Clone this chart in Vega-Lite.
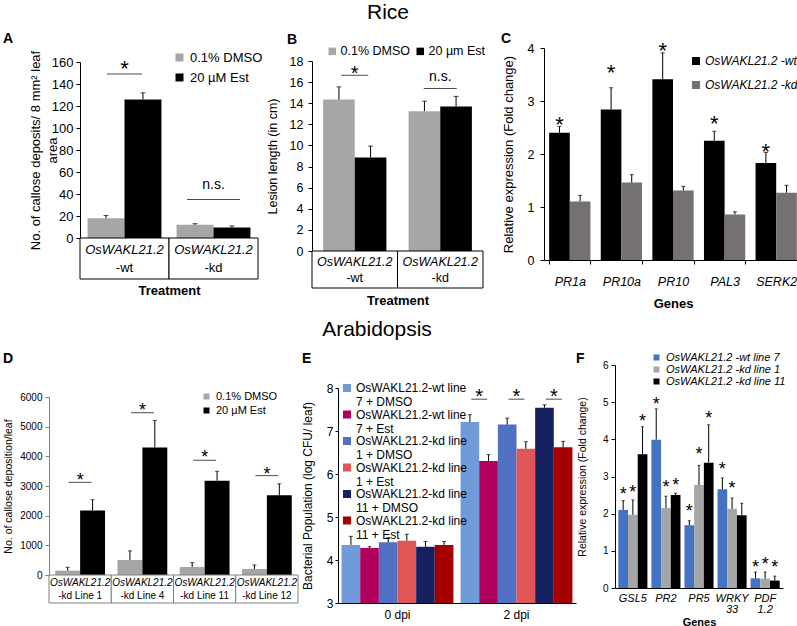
{
  "$schema": "https://vega.github.io/schema/vega-lite/v6.json",
  "padding": {"left": 2, "top": 2, "right": 0, "bottom": 0},
  "background": "white",
  "config": {
    "font": "Liberation Sans",
    "view": {"stroke": null},
    "axis": {"grid": false, "domainColor": "#000", "tickColor": "#000", "labelColor": "#000", "titleColor": "#000", "titleFontWeight": "normal", "tickSize": 4, "labelPadding": 3, "labelOverlap": false},
    "legend": {"symbolType": "square", "labelColor": "#000", "padding": 0, "symbolStrokeWidth": 0, "labelLimit": 300},
    "title": {"color": "#000"}
  },
  "datasets": {
    "a": [
      {"cat": "wt", "trt": "0.1% DMSO", "v": 18, "u": 20.5},
      {"cat": "wt", "trt": "20 µM Est", "v": 126, "u": 132},
      {"cat": "kd", "trt": "0.1% DMSO", "v": 12, "u": 13},
      {"cat": "kd", "trt": "20 µM Est", "v": 9.5, "u": 11}
    ],
    "aSig": [{"cat": "wt", "ly": 149, "ty": 159, "lab": "*"}, {"cat": "kd", "ly": 35, "ty": 48, "lab": "n.s."}],
    "aStrip": [{"cat": "wt", "l1": "OsWAKL21.2", "l2": "-wt"}, {"cat": "kd", "l1": "OsWAKL21.2", "l2": "-kd"}],
    "b": [
      {"cat": "wt", "trt": "0.1% DMSO", "v": 14.35, "u": 15.55},
      {"cat": "wt", "trt": "20 µm Est", "v": 8.86, "u": 9.94},
      {"cat": "kd", "trt": "0.1% DMSO", "v": 13.25, "u": 14.2},
      {"cat": "kd", "trt": "20 µm Est", "v": 13.7, "u": 14.65}
    ],
    "bSig": [{"cat": "wt", "ly": 16.65, "ty": 17.2, "lab": "*"}, {"cat": "kd", "ly": 15.4, "ty": 16.5, "lab": "n.s."}],
    "c": [
      {"gene": "PR1a", "s": "OsWAKL21.2 -wt", "v": 2.4, "u": 2.52},
      {"gene": "PR1a", "s": "OsWAKL21.2 -kd", "v": 1.105, "u": 1.22},
      {"gene": "PR10a", "s": "OsWAKL21.2 -wt", "v": 2.84, "u": 3.25},
      {"gene": "PR10a", "s": "OsWAKL21.2 -kd", "v": 1.46, "u": 1.61},
      {"gene": "PR10", "s": "OsWAKL21.2 -wt", "v": 3.41, "u": 3.91},
      {"gene": "PR10", "s": "OsWAKL21.2 -kd", "v": 1.31, "u": 1.39},
      {"gene": "PAL3", "s": "OsWAKL21.2 -wt", "v": 2.25, "u": 2.43},
      {"gene": "PAL3", "s": "OsWAKL21.2 -kd", "v": 0.86, "u": 0.91},
      {"gene": "SERK2", "s": "OsWAKL21.2 -wt", "v": 1.83, "u": 2.03},
      {"gene": "SERK2", "s": "OsWAKL21.2 -kd", "v": 1.27, "u": 1.41}
    ],
    "cStars": [
      {"gene": "PR1a", "s": "OsWAKL21.2 -wt", "sy": 2.66},
      {"gene": "PR10a", "s": "OsWAKL21.2 -wt", "sy": 3.64},
      {"gene": "PR10", "s": "OsWAKL21.2 -wt", "sy": 4.05},
      {"gene": "PAL3", "s": "OsWAKL21.2 -wt", "sy": 2.68},
      {"gene": "SERK2", "s": "OsWAKL21.2 -wt", "sy": 2.15}
    ],
    "d": [
      {"cat": "L1", "trt": "0.1% DMSO", "v": 147, "u": 260},
      {"cat": "L1", "trt": "20 µM Est", "v": 2177, "u": 2538},
      {"cat": "L4", "trt": "0.1% DMSO", "v": 507, "u": 812},
      {"cat": "L4", "trt": "20 µM Est", "v": 4297, "u": 5210},
      {"cat": "L11", "trt": "0.1% DMSO", "v": 270, "u": 417},
      {"cat": "L11", "trt": "20 µM Est", "v": 3180, "u": 3496},
      {"cat": "L12", "trt": "0.1% DMSO", "v": 203, "u": 339},
      {"cat": "L12", "trt": "20 µM Est", "v": 2688, "u": 3074}
    ],
    "dSig": [
      {"cat": "L1", "ly": 3124, "ty": 3350},
      {"cat": "L4", "ly": 5470, "ty": 5695},
      {"cat": "L11", "ly": 3868, "ty": 4116},
      {"cat": "L12", "ly": 3350, "ty": 3552}
    ],
    "dStrip": [
      {"cat": "L1", "l1": "OsWAKL21.2", "l2": "-kd Line 1"},
      {"cat": "L4", "l1": "OsWAKL21.2", "l2": "-kd Line 4"},
      {"cat": "L11", "l1": "OsWAKL21.2", "l2": "-kd Line 11"},
      {"cat": "L12", "l1": "OsWAKL21.2", "l2": "-kd Line 12"}
    ],
    "e": [
      {"dpi": "0 dpi", "s": "OsWAKL21.2-wt line|7 + DMSO", "v": 4.35, "u": 4.55},
      {"dpi": "0 dpi", "s": "OsWAKL21.2-wt line|7 + Est", "v": 4.28, "u": 4.31},
      {"dpi": "0 dpi", "s": "OsWAKL21.2-kd line|1 + DMSO", "v": 4.41, "u": 4.52},
      {"dpi": "0 dpi", "s": "OsWAKL21.2-kd line|1 + Est", "v": 4.45, "u": 4.6},
      {"dpi": "0 dpi", "s": "OsWAKL21.2-kd line|11 + DMSO", "v": 4.31, "u": 4.43},
      {"dpi": "0 dpi", "s": "OsWAKL21.2-kd line|11 + Est", "v": 4.35, "u": 4.43},
      {"dpi": "2 dpi", "s": "OsWAKL21.2-wt line|7 + DMSO", "v": 7.21, "u": 7.38},
      {"dpi": "2 dpi", "s": "OsWAKL21.2-wt line|7 + Est", "v": 6.3, "u": 6.45},
      {"dpi": "2 dpi", "s": "OsWAKL21.2-kd line|1 + DMSO", "v": 7.15, "u": 7.3},
      {"dpi": "2 dpi", "s": "OsWAKL21.2-kd line|1 + Est", "v": 6.59, "u": 6.75},
      {"dpi": "2 dpi", "s": "OsWAKL21.2-kd line|11 + DMSO", "v": 7.54, "u": 7.61},
      {"dpi": "2 dpi", "s": "OsWAKL21.2-kd line|11 + Est", "v": 6.62, "u": 6.76}
    ],
    "eSig": [
      {"dpi": "2 dpi", "pair": "p1", "ly": 7.74, "ty": 7.91},
      {"dpi": "2 dpi", "pair": "p2", "ly": 7.74, "ty": 7.91},
      {"dpi": "2 dpi", "pair": "p3", "ly": 7.74, "ty": 7.91}
    ],
    "f": [
      {"gene": "GSL5", "s": "OsWAKL21.2 -wt line 7", "v": 2.1, "u": 2.35},
      {"gene": "GSL5", "s": "OsWAKL21.2 -kd line 1", "v": 1.97, "u": 2.37},
      {"gene": "GSL5", "s": "OsWAKL21.2 -kd line 11", "v": 3.6, "u": 4.34},
      {"gene": "PR2", "s": "OsWAKL21.2 -wt line 7", "v": 3.99, "u": 4.82},
      {"gene": "PR2", "s": "OsWAKL21.2 -kd line 1", "v": 2.15, "u": 2.47},
      {"gene": "PR2", "s": "OsWAKL21.2 -kd line 11", "v": 2.5, "u": 2.55},
      {"gene": "PR5", "s": "OsWAKL21.2 -wt line 7", "v": 1.69, "u": 1.81},
      {"gene": "PR5", "s": "OsWAKL21.2 -kd line 1", "v": 2.77, "u": 3.3},
      {"gene": "PR5", "s": "OsWAKL21.2 -kd line 11", "v": 3.37, "u": 4.39},
      {"gene": "WRKY|33", "s": "OsWAKL21.2 -wt line 7", "v": 2.66, "u": 2.96},
      {"gene": "WRKY|33", "s": "OsWAKL21.2 -kd line 1", "v": 2.13, "u": 2.42},
      {"gene": "WRKY|33", "s": "OsWAKL21.2 -kd line 11", "v": 1.96, "u": 2.28},
      {"gene": "PDF|1.2", "s": "OsWAKL21.2 -wt line 7", "v": 0.26, "u": 0.43},
      {"gene": "PDF|1.2", "s": "OsWAKL21.2 -kd line 1", "v": 0.25, "u": 0.43},
      {"gene": "PDF|1.2", "s": "OsWAKL21.2 -kd line 11", "v": 0.2, "u": 0.32}
    ],
    "fStars": [
      {"gene": "GSL5", "s": "OsWAKL21.2 -wt line 7", "sy": 2.65},
      {"gene": "GSL5", "s": "OsWAKL21.2 -kd line 1", "sy": 2.7},
      {"gene": "GSL5", "s": "OsWAKL21.2 -kd line 11", "sy": 4.6},
      {"gene": "PR2", "s": "OsWAKL21.2 -wt line 7", "sy": 5.06},
      {"gene": "PR2", "s": "OsWAKL21.2 -kd line 1", "sy": 2.82},
      {"gene": "PR2", "s": "OsWAKL21.2 -kd line 11", "sy": 2.87},
      {"gene": "PR5", "s": "OsWAKL21.2 -wt line 7", "sy": 2.19},
      {"gene": "PR5", "s": "OsWAKL21.2 -kd line 1", "sy": 3.7},
      {"gene": "PR5", "s": "OsWAKL21.2 -kd line 11", "sy": 4.68},
      {"gene": "WRKY|33", "s": "OsWAKL21.2 -wt line 7", "sy": 3.32},
      {"gene": "WRKY|33", "s": "OsWAKL21.2 -kd line 1", "sy": 2.8},
      {"gene": "PDF|1.2", "s": "OsWAKL21.2 -wt line 7", "sy": 0.67},
      {"gene": "PDF|1.2", "s": "OsWAKL21.2 -kd line 1", "sy": 0.75},
      {"gene": "PDF|1.2", "s": "OsWAKL21.2 -kd line 11", "sy": 0.67}
    ]
  },
  "spacing": 8,
  "resolve": {"scale": {"color": "independent", "xOffset": "independent"}},
  "vconcat": [
    {
      "title": {"text": "Rice", "fontSize": 21, "fontWeight": "normal", "anchor": "middle", "dx": -14, "offset": 9},
      "spacing": 0,
      "resolve": {"scale": {"color": "independent", "xOffset": "independent"}},
      "hconcat": [
        {"width": 1, "height": 1, "data": {"values": []}, "mark": "point"},
        {
          "spacing": 15,
          "resolve": {"scale": {"color": "independent", "xOffset": "independent"}},
          "hconcat": [
            {
              "spacing": 3,
              "resolve": {"scale": {"color": "independent", "xOffset": "independent"}},
              "hconcat": [
                {
                  "bounds": "flush",
                  "spacing": 0,
                  "resolve": {"scale": {"color": "independent", "xOffset": "independent"}},
                  "vconcat": [
                    {"width": 178, "height": 29, "data": {"values": []}, "mark": "point"},
                    {
                      "title": {"text": "A", "anchor": "start", "frame": "group", "fontSize": 14, "fontWeight": "bold", "offset": 4, "dx": -77},
                      "width": 178, "height": 176,
                      "encoding": {"x": {"field": "cat", "type": "nominal", "sort": null, "axis": null, "scale": {"domain": ["wt", "kd"], "paddingInner": 0.17, "paddingOuter": 0.085}}},
                      "layer": [
                        {"data": {"name": "a"}, "layer": [
                          {"mark": {"type": "bar"}, "encoding": {
                            "xOffset": {"field": "trt", "type": "nominal", "scale": {"domain": ["0.1% DMSO", "20 µM Est"]}},
                            "y": {"field": "v", "type": "quantitative", "scale": {"domain": [0, 160]}, "axis": {"values": [0, 20, 40, 60, 80, 100, 120, 140, 160], "tickCount": 9, "format": "d", "labelFontSize": 13, "title": ["No. of callose deposits/ 8 mm² leaf", "area"], "titleFontSize": 13, "titleLineHeight": 17, "titlePadding": -8}},
                            "color": {"field": "trt", "type": "nominal", "scale": {"domain": ["0.1% DMSO", "20 µM Est"], "range": ["#a6a6a6", "#000000"]}, "legend": {"title": null, "orient": "none", "legendX": 93, "legendY": -11, "labelFontSize": 13, "symbolSize": 64, "rowPadding": 6}}}},
                          {"mark": {"type": "rule", "color": "#000"}, "encoding": {"xOffset": {"field": "trt", "type": "nominal", "scale": {"domain": ["0.1% DMSO", "20 µM Est"]}}, "y": {"field": "v", "type": "quantitative"}, "y2": {"field": "u"}}},
                          {"mark": {"type": "tick", "color": "#000", "size": 5, "thickness": 1}, "encoding": {"xOffset": {"field": "trt", "type": "nominal", "scale": {"domain": ["0.1% DMSO", "20 µM Est"]}}, "y": {"field": "u", "type": "quantitative"}}}
                        ]},
                        {"data": {"name": "aSig"}, "layer": [
                          {"transform": [{"filter": "datum.cat == 'wt'"}], "mark": {"type": "tick", "color": "#000", "size": 35, "thickness": 1}, "encoding": {"y": {"field": "ly", "type": "quantitative"}}},
                          {"transform": [{"filter": "datum.cat == 'kd'"}], "mark": {"type": "tick", "color": "#000", "size": 53, "thickness": 1}, "encoding": {"y": {"field": "ly", "type": "quantitative"}}},
                          {"transform": [{"filter": "datum.lab == '*'"}], "mark": {"type": "text", "fontSize": 22, "baseline": "middle", "dy": 6}, "encoding": {"y": {"field": "ty", "type": "quantitative"}, "text": {"field": "lab"}}},
                          {"transform": [{"filter": "datum.lab != '*'"}], "mark": {"type": "text", "fontSize": 14, "baseline": "middle"}, "encoding": {"y": {"field": "ty", "type": "quantitative"}, "text": {"field": "lab"}}}
                        ]}
                      ]
                    },
                    {
                      "width": 178, "height": 41,
                      "data": {"name": "aStrip"},
                      "encoding": {"x": {"field": "cat", "type": "nominal", "sort": null, "scale": {"domain": ["wt", "kd"], "paddingInner": 0, "paddingOuter": 0}, "axis": {"title": "Treatment", "labels": false, "ticks": false, "domain": false, "titleFontSize": 13, "titleFontWeight": "bold", "titlePadding": 5}}},
                      "layer": [
                        {"mark": {"type": "rect", "fill": "#ffffff", "stroke": "#000000", "strokeWidth": 1}},
                        {"mark": {"type": "text", "fontSize": 13, "fontStyle": "italic", "dy": -9}, "encoding": {"text": {"field": "l1"}}},
                        {"mark": {"type": "text", "fontSize": 13, "dy": 9}, "encoding": {"text": {"field": "l2"}}}
                      ]
                    }
                  ]
                },
                {
                  "bounds": "flush",
                  "spacing": 0,
                  "resolve": {"scale": {"color": "independent", "xOffset": "independent"}},
                  "vconcat": [
                    {"width": 171, "height": 28, "data": {"values": []}, "mark": "point"},
                    {
                      "title": {"text": "B", "anchor": "start", "frame": "group", "fontSize": 14, "fontWeight": "bold", "offset": -2, "dx": -25},
                      "width": 171, "height": 190,
                      "encoding": {"x": {"field": "cat", "type": "nominal", "sort": null, "axis": null, "scale": {"domain": ["wt", "kd"], "paddingInner": 0.26, "paddingOuter": 0.13}}},
                      "layer": [
                        {"data": {"name": "b"}, "layer": [
                          {"mark": {"type": "bar"}, "encoding": {
                            "xOffset": {"field": "trt", "type": "nominal", "scale": {"domain": ["0.1% DMSO", "20 µm Est"]}},
                            "y": {"field": "v", "type": "quantitative", "scale": {"domain": [0, 18]}, "axis": {"values": [0, 2, 4, 6, 8, 10, 12, 14, 16, 18], "tickCount": 10, "format": "d", "labelFontSize": 12.5, "labelPadding": 5, "title": "Lesion length (in cm)", "titleFontSize": 12.5, "titlePadding": 10}},
                            "color": {"field": "trt", "type": "nominal", "scale": {"domain": ["0.1% DMSO", "20 µm Est"], "range": ["#a6a6a6", "#000000"]}, "legend": {"title": null, "orient": "none", "direction": "horizontal", "legendX": 14, "legendY": -16, "labelFontSize": 12.5, "symbolSize": 56, "columnPadding": 4, "labelOffset": 2}}}},
                          {"mark": {"type": "rule", "color": "#000"}, "encoding": {"xOffset": {"field": "trt", "type": "nominal", "scale": {"domain": ["0.1% DMSO", "20 µm Est"]}}, "y": {"field": "v", "type": "quantitative"}, "y2": {"field": "u"}}},
                          {"mark": {"type": "tick", "color": "#000", "size": 5, "thickness": 1}, "encoding": {"xOffset": {"field": "trt", "type": "nominal", "scale": {"domain": ["0.1% DMSO", "20 µm Est"]}}, "y": {"field": "u", "type": "quantitative"}}}
                        ]},
                        {"data": {"name": "bSig"}, "layer": [
                          {"transform": [{"filter": "datum.cat == 'wt'"}], "mark": {"type": "tick", "color": "#000", "size": 27, "thickness": 1}, "encoding": {"y": {"field": "ly", "type": "quantitative"}}},
                          {"transform": [{"filter": "datum.cat == 'kd'"}], "mark": {"type": "tick", "color": "#000", "size": 33, "thickness": 1}, "encoding": {"y": {"field": "ly", "type": "quantitative"}}},
                          {"transform": [{"filter": "datum.lab == '*'"}], "mark": {"type": "text", "fontSize": 20, "baseline": "middle", "dy": 5}, "encoding": {"y": {"field": "ty", "type": "quantitative"}, "text": {"field": "lab"}}},
                          {"transform": [{"filter": "datum.lab != '*'"}], "mark": {"type": "text", "fontSize": 14, "baseline": "middle"}, "encoding": {"y": {"field": "ty", "type": "quantitative"}, "text": {"field": "lab"}}}
                        ]}
                      ]
                    },
                    {
                      "width": 171, "height": 37,
                      "data": {"name": "aStrip"},
                      "encoding": {"x": {"field": "cat", "type": "nominal", "sort": null, "scale": {"domain": ["wt", "kd"], "paddingInner": 0, "paddingOuter": 0}, "axis": {"title": "Treatment", "labels": false, "ticks": false, "domain": false, "titleFontSize": 13, "titleFontWeight": "bold", "titlePadding": 6}}},
                      "layer": [
                        {"mark": {"type": "rect", "fill": "#ffffff", "stroke": "#000000", "strokeWidth": 1}},
                        {"mark": {"type": "text", "fontSize": 12.5, "fontStyle": "italic", "dy": -8}, "encoding": {"text": {"field": "l1"}}},
                        {"mark": {"type": "text", "fontSize": 12.5, "dy": 8}, "encoding": {"text": {"field": "l2"}}}
                      ]
                    }
                  ]
                }
              ]
            },
            {
              "bounds": "flush",
              "spacing": 0,
              "resolve": {"scale": {"color": "independent", "xOffset": "independent"}},
              "vconcat": [
                {"width": 258, "height": 15, "data": {"values": []}, "mark": "point"},
                {
                  "title": {"text": "C", "anchor": "start", "frame": "group", "fontSize": 14, "fontWeight": "bold", "offset": -6, "dx": -43},
                  "width": 258, "height": 212,
                  "encoding": {"x": {"field": "gene", "type": "nominal", "sort": null, "scale": {"domain": ["PR1a", "PR10a", "PR10", "PAL3", "SERK2"], "paddingInner": 0.2, "paddingOuter": 0.1}, "axis": {"title": "Genes", "titleFontSize": 13, "titleFontWeight": "bold", "titlePadding": 10, "labelFontSize": 12.5, "labelFontStyle": "italic", "labelAngle": 0, "tickBand": "extent", "tickSize": 4, "labelPadding": 11}}},
                  "layer": [
                    {"data": {"name": "c"}, "layer": [
                      {"mark": {"type": "bar"}, "encoding": {
                        "xOffset": {"field": "s", "type": "nominal", "scale": {"domain": ["OsWAKL21.2 -wt", "OsWAKL21.2 -kd"]}},
                        "y": {"field": "v", "type": "quantitative", "scale": {"domain": [0, 4]}, "axis": {"values": [0, 1, 2, 3, 4], "tickCount": 5, "format": "d", "labelFontSize": 12.5, "labelPadding": 6, "title": "Relative expression (Fold change)", "titleFontSize": 13, "titlePadding": 12}},
                        "color": {"field": "s", "type": "nominal", "scale": {"domain": ["OsWAKL21.2 -wt", "OsWAKL21.2 -kd"], "range": ["#000000", "#767171"]}, "legend": {"title": null, "orient": "none", "legendX": 146, "legendY": 7, "labelFontSize": 12, "labelFontStyle": "italic", "symbolSize": 64, "rowPadding": 12, "labelOffset": 3}}}},
                      {"mark": {"type": "rule", "color": "#000"}, "encoding": {"xOffset": {"field": "s", "type": "nominal", "scale": {"domain": ["OsWAKL21.2 -wt", "OsWAKL21.2 -kd"]}}, "y": {"field": "v", "type": "quantitative"}, "y2": {"field": "u"}}},
                      {"mark": {"type": "tick", "color": "#000", "size": 4, "thickness": 1}, "encoding": {"xOffset": {"field": "s", "type": "nominal", "scale": {"domain": ["OsWAKL21.2 -wt", "OsWAKL21.2 -kd"]}}, "y": {"field": "u", "type": "quantitative"}}}
                    ]},
                    {"data": {"name": "cStars"}, "mark": {"type": "text", "fontSize": 22, "baseline": "middle", "dy": 6}, "encoding": {"xOffset": {"field": "s", "type": "nominal"}, "y": {"field": "sy", "type": "quantitative"}, "text": {"value": "*"}}}
                  ]
                }
              ]
            }
          ]
        }
      ]
    },
    {
      "title": {"text": "Arabidopsis", "fontSize": 21, "fontWeight": "normal", "anchor": "middle", "dx": -17, "offset": 12},
      "spacing": 0,
      "resolve": {"scale": {"color": "independent", "xOffset": "independent"}},
      "hconcat": [
        {"width": 1, "height": 1, "data": {"values": []}, "mark": "point"},
        {
          "spacing": 0,
          "resolve": {"scale": {"color": "independent", "xOffset": "independent"}},
          "hconcat": [
            {
              "spacing": 2,
              "resolve": {"scale": {"color": "independent", "xOffset": "independent"}},
              "hconcat": [
                {
                  "bounds": "flush",
                  "spacing": 0,
                  "resolve": {"scale": {"color": "independent", "xOffset": "independent"}},
                  "vconcat": [
                    {"width": 249, "height": 45, "data": {"values": []}, "mark": "point"},
                    {
                      "title": {"text": "D", "anchor": "start", "frame": "group", "fontSize": 14, "fontWeight": "bold", "offset": 25, "dx": -46},
                      "width": 249, "height": 178,
                      "encoding": {"x": {"field": "cat", "type": "nominal", "sort": null, "axis": null, "scale": {"domain": ["L1", "L4", "L11", "L12"], "paddingInner": 0.2, "paddingOuter": 0.1}}},
                      "layer": [
                        {"data": {"name": "d"}, "layer": [
                          {"mark": {"type": "bar"}, "encoding": {
                            "xOffset": {"field": "trt", "type": "nominal", "scale": {"domain": ["0.1% DMSO", "20 µM Est"]}},
                            "y": {"field": "v", "type": "quantitative", "scale": {"domain": [0, 6000]}, "axis": {"values": [0, 1000, 2000, 3000, 4000, 5000, 6000], "tickCount": 7, "format": "d", "labelFontSize": 10, "domainColor": "#808080", "tickColor": "#808080", "title": "No. of callose deposition/leaf", "titleFontSize": 10.5, "titlePadding": 6}},
                            "color": {"field": "trt", "type": "nominal", "scale": {"domain": ["0.1% DMSO", "20 µM Est"], "range": ["#a6a6a6", "#000000"]}, "legend": {"title": null, "orient": "none", "legendX": 152, "legendY": -6, "labelFontSize": 11, "symbolSize": 36, "rowPadding": 2}}}},
                          {"mark": {"type": "rule", "color": "#000"}, "encoding": {"xOffset": {"field": "trt", "type": "nominal", "scale": {"domain": ["0.1% DMSO", "20 µM Est"]}}, "y": {"field": "v", "type": "quantitative"}, "y2": {"field": "u"}}},
                          {"mark": {"type": "tick", "color": "#000", "size": 4, "thickness": 1}, "encoding": {"xOffset": {"field": "trt", "type": "nominal", "scale": {"domain": ["0.1% DMSO", "20 µM Est"]}}, "y": {"field": "u", "type": "quantitative"}}}
                        ]},
                        {"data": {"name": "dSig"}, "layer": [
                          {"mark": {"type": "tick", "color": "#000", "size": 23, "thickness": 1}, "encoding": {"y": {"field": "ly", "type": "quantitative"}}},
                          {"mark": {"type": "text", "fontSize": 18, "baseline": "middle", "dy": 5}, "encoding": {"y": {"field": "ty", "type": "quantitative"}, "text": {"value": "*"}}}
                        ]}
                      ]
                    },
                    {
                      "width": 249, "height": 28,
                      "data": {"name": "dStrip"},
                      "encoding": {"x": {"field": "cat", "type": "nominal", "sort": null, "scale": {"domain": ["L1", "L4", "L11", "L12"], "paddingInner": 0, "paddingOuter": 0}, "axis": null}},
                      "layer": [
                        {"mark": {"type": "rect", "fill": "#ffffff", "stroke": "#808080", "strokeWidth": 1}},
                        {"mark": {"type": "text", "fontSize": 10, "fontStyle": "italic", "dy": -6}, "encoding": {"text": {"field": "l1"}}},
                        {"mark": {"type": "text", "fontSize": 10, "dy": 7}, "encoding": {"text": {"field": "l2"}}}
                      ]
                    }
                  ]
                },
                {
                  "bounds": "flush",
                  "spacing": 0,
                  "resolve": {"scale": {"color": "independent", "xOffset": "independent"}},
                  "vconcat": [
                    {"width": 238, "height": 36, "data": {"values": []}, "mark": "point"},
                    {
                      "title": {"text": "E", "anchor": "start", "frame": "group", "fontSize": 14, "fontWeight": "bold", "offset": 16, "dx": -36},
                      "width": 238, "height": 215,
                      "encoding": {"x": {"field": "dpi", "type": "nominal", "sort": null, "scale": {"domain": ["0 dpi", "2 dpi"], "paddingInner": 0.06, "paddingOuter": 0.03}, "axis": {"title": null, "labelAngle": 0, "ticks": false, "labelFontSize": 12, "labelPadding": 6}}},
                      "resolve": {"scale": {"xOffset": "independent"}},
                      "layer": [
                        {"data": {"name": "e"}, "layer": [
                          {"mark": {"type": "bar"}, "encoding": {
                            "xOffset": {"field": "s", "type": "nominal", "scale": {"domain": ["OsWAKL21.2-wt line|7 + DMSO", "OsWAKL21.2-wt line|7 + Est", "OsWAKL21.2-kd line|1 + DMSO", "OsWAKL21.2-kd line|1 + Est", "OsWAKL21.2-kd line|11 + DMSO", "OsWAKL21.2-kd line|11 + Est"]}},
                            "y": {"field": "v", "type": "quantitative", "scale": {"domain": [3, 8]}, "axis": {"values": [3, 4, 5, 6, 7, 8], "tickCount": 6, "format": "d", "labelFontSize": 12, "tickSize": 3, "labelPadding": 2, "title": "Bacterial Population (log CFU/ leaf)", "titleFontSize": 12, "titlePadding": 12}},
                            "y2": {"datum": 3},
                            "color": {"field": "s", "type": "nominal", "scale": {"domain": ["OsWAKL21.2-wt line|7 + DMSO", "OsWAKL21.2-wt line|7 + Est", "OsWAKL21.2-kd line|1 + DMSO", "OsWAKL21.2-kd line|1 + Est", "OsWAKL21.2-kd line|11 + DMSO", "OsWAKL21.2-kd line|11 + Est"], "range": ["#6f9bd8", "#b0005e", "#5070c4", "#e05555", "#14215e", "#a50000"]}, "legend": {"title": null, "orient": "none", "legendX": 3, "legendY": -6, "labelFontSize": 12, "symbolSize": 64, "rowPadding": 0.5, "labelOffset": 3, "labelExpr": "split(datum.label, '|')"}}}},
                          {"mark": {"type": "rule", "color": "#000"}, "encoding": {"xOffset": {"field": "s", "type": "nominal", "scale": {"domain": ["OsWAKL21.2-wt line|7 + DMSO", "OsWAKL21.2-wt line|7 + Est", "OsWAKL21.2-kd line|1 + DMSO", "OsWAKL21.2-kd line|1 + Est", "OsWAKL21.2-kd line|11 + DMSO", "OsWAKL21.2-kd line|11 + Est"]}}, "y": {"field": "v", "type": "quantitative"}, "y2": {"field": "u"}}},
                          {"mark": {"type": "tick", "color": "#000", "size": 4, "thickness": 1}, "encoding": {"xOffset": {"field": "s", "type": "nominal", "scale": {"domain": ["OsWAKL21.2-wt line|7 + DMSO", "OsWAKL21.2-wt line|7 + Est", "OsWAKL21.2-kd line|1 + DMSO", "OsWAKL21.2-kd line|1 + Est", "OsWAKL21.2-kd line|11 + DMSO", "OsWAKL21.2-kd line|11 + Est"]}}, "y": {"field": "u", "type": "quantitative"}}}
                        ]},
                        {"data": {"name": "eSig"}, "layer": [
                          {"mark": {"type": "tick", "color": "#000", "size": 16, "thickness": 1}, "encoding": {"xOffset": {"field": "pair", "type": "nominal", "scale": {"domain": ["p1", "p2", "p3"]}}, "y": {"field": "ly", "type": "quantitative"}}},
                          {"mark": {"type": "text", "fontSize": 20, "baseline": "middle", "dy": 5}, "encoding": {"xOffset": {"field": "pair", "type": "nominal", "scale": {"domain": ["p1", "p2", "p3"]}}, "y": {"field": "ty", "type": "quantitative"}, "text": {"value": "*"}}}
                        ]}
                      ]
                    }
                  ]
                }
              ]
            },
            {
              "bounds": "flush",
              "spacing": 0,
              "resolve": {"scale": {"color": "independent", "xOffset": "independent"}},
              "vconcat": [
                {"width": 168, "height": 13, "data": {"values": []}, "mark": "point"},
                {
                  "title": {"text": "F", "anchor": "start", "frame": "group", "fontSize": 14, "fontWeight": "bold", "offset": -14, "dx": -39},
                  "width": 168, "height": 223,
                  "encoding": {"x": {"field": "gene", "type": "nominal", "sort": null, "scale": {"domain": ["GSL5", "PR2", "PR5", "WRKY|33", "PDF|1.2"], "paddingInner": 0.12, "paddingOuter": 0.1}, "axis": {"title": "Genes", "titleFontSize": 11, "titleFontWeight": "bold", "titlePadding": 2, "labelFontSize": 11, "labelFontStyle": "italic", "labelAngle": 0, "ticks": false, "labelPadding": 4, "labelLineHeight": 11, "labelExpr": "split(datum.label, '|')"}}},
                  "layer": [
                    {"data": {"name": "f"}, "layer": [
                      {"mark": {"type": "bar"}, "encoding": {
                        "xOffset": {"field": "s", "type": "nominal", "scale": {"domain": ["OsWAKL21.2 -wt line 7", "OsWAKL21.2 -kd line 1", "OsWAKL21.2 -kd line 11"]}},
                        "y": {"field": "v", "type": "quantitative", "scale": {"domain": [0, 6]}, "axis": {"values": [0, 1, 2, 3, 4, 5, 6], "tickCount": 7, "format": "d", "labelFontSize": 10, "title": "Relative expression (Fold change)", "titleFontSize": 10.5, "titlePadding": 15}},
                        "color": {"field": "s", "type": "nominal", "scale": {"domain": ["OsWAKL21.2 -wt line 7", "OsWAKL21.2 -kd line 1", "OsWAKL21.2 -kd line 11"], "range": ["#4472c4", "#a6a6a6", "#000000"]}, "legend": {"title": null, "orient": "none", "legendX": 36, "legendY": -13, "labelFontSize": 11, "labelFontStyle": "italic", "symbolSize": 36, "rowPadding": 0}}}},
                      {"mark": {"type": "rule", "color": "#000"}, "encoding": {"xOffset": {"field": "s", "type": "nominal", "scale": {"domain": ["OsWAKL21.2 -wt line 7", "OsWAKL21.2 -kd line 1", "OsWAKL21.2 -kd line 11"]}}, "y": {"field": "v", "type": "quantitative"}, "y2": {"field": "u"}}},
                      {"mark": {"type": "tick", "color": "#000", "size": 3, "thickness": 1}, "encoding": {"xOffset": {"field": "s", "type": "nominal", "scale": {"domain": ["OsWAKL21.2 -wt line 7", "OsWAKL21.2 -kd line 1", "OsWAKL21.2 -kd line 11"]}}, "y": {"field": "u", "type": "quantitative"}}}
                    ]},
                    {"data": {"name": "fStars"}, "mark": {"type": "text", "fontSize": 18, "baseline": "middle", "dy": 5}, "encoding": {"xOffset": {"field": "s", "type": "nominal"}, "y": {"field": "sy", "type": "quantitative"}, "text": {"value": "*"}}}
                  ]
                }
              ]
            }
          ]
        }
      ]
    }
  ]
}
